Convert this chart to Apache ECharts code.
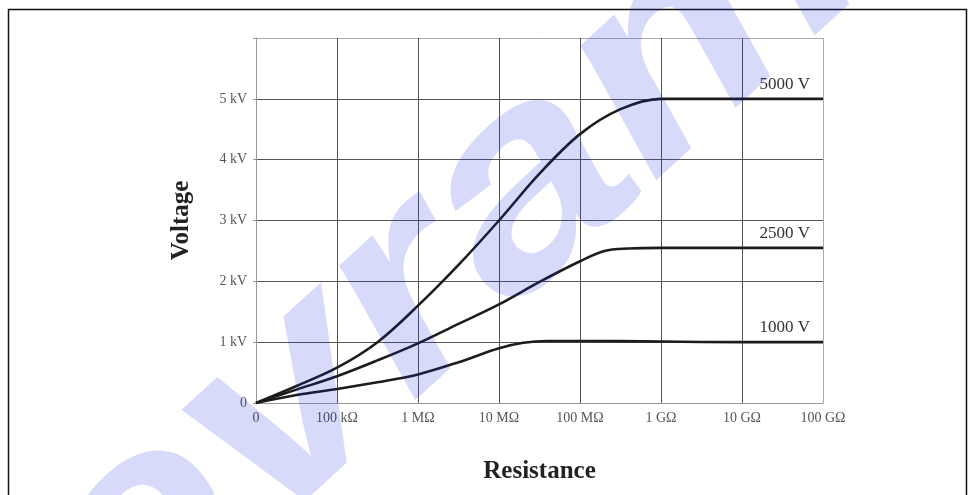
<!DOCTYPE html>
<html>
<head>
<meta charset="utf-8">
<script src="https://cdn.jsdelivr.net/npm/echarts@6/dist/echarts.min.js"></script>
<style>
html,body{margin:0;padding:0;background:#fff;}
#c{width:969px;height:495px;}
</style>
</head>
<body>
<div id="c"></div>
<script>
// x positions: decades of resistance (0 = 0, 1 = 100 kΩ, ... 7 = 100 GΩ)
var xTickLabels = ['0', '100 kΩ', '1 MΩ', '10 MΩ', '100 MΩ', '1 GΩ', '10 GΩ', '100 GΩ'];
var yTickLabels = ['0', '1 kV', '2 kV', '3 kV', '4 kV', '5 kV', ''];
var seriesNames = ['5000 V', '2500 V', '1000 V'];

var x5000 = [0, 0.5, 1, 1.5, 2, 2.5, 3, 3.5, 4, 4.5, 5, 6, 7];
var v5000 = [0, 0.28, 0.58, 1.0, 1.6, 2.27, 3.0, 3.77, 4.42, 4.83, 5.0, 5.0, 5.0];

var x2500 = [0, 0.5, 1, 1.5, 2, 2.5, 3, 3.5, 4, 4.3, 4.6, 5, 6, 7];
var v2500 = [0, 0.22, 0.44, 0.7, 0.98, 1.3, 1.62, 1.99, 2.33, 2.5, 2.54, 2.55, 2.55, 2.55];

var x1000 = [0, 0.5, 1, 1.5, 2, 2.5, 3, 3.3, 3.6, 4, 5, 6, 7];
var v1000 = [0, 0.13, 0.23, 0.34, 0.47, 0.67, 0.9, 0.99, 1.02, 1.02, 1.01, 1.0, 1.0];

function pairs(xs, ys) {
  return xs.map(function (x, i) { return [x, ys[i]]; });
}

var serif = '"Liberation Serif", "DejaVu Serif", serif';

function mkSeries(name, xs, ys) {
  var last = xs.length - 1;
  return {
    name: name,
    type: 'line',
    data: pairs(xs, ys),
    smooth: 0.35,
    showSymbol: false,
    symbol: 'none',
    lineStyle: { color: '#1c1c1c', width: 2.6 },
    markPoint: {
      symbol: 'circle',
      symbolSize: 0,
      silent: true,
      data: [{ coord: [xs[last], ys[last]], value: name }],
      label: {
        show: true,
        position: 'top',
        align: 'right',
        distance: 6,
        offset: [-13, 0],
        fontFamily: serif,
        fontSize: 17,
        color: '#333',
        formatter: name
      }
    },
    z: 3
  };
}

var chart = echarts.init(document.getElementById('c'), null, { renderer: 'canvas' });
chart.setOption({
  animation: false,
  backgroundColor: '#ffffff',
  grid: { left: 256, right: 146, top: 38, bottom: 92, containLabel: false },
  xAxis: {
    type: 'value',
    min: 0, max: 7, interval: 1,
    name: 'Resistance',
    nameLocation: 'middle',
    nameGap: 56,
    nameTextStyle: { fontFamily: serif, fontWeight: 'bold', fontSize: 25, color: '#222' },
    axisLine: { show: true, lineStyle: { color: '#999', width: 1 } },
    axisTick: { show: false },
    axisLabel: {
      fontFamily: serif, fontSize: 14, color: '#555', margin: 8,
      formatter: function (v) { return xTickLabels[Math.round(v)]; }
    },
    splitLine: { show: true, lineStyle: { color: ['#999', '#555', '#555', '#555', '#555', '#555', '#555', '#aaa'], width: 1 } }
  },
  yAxis: {
    type: 'value',
    min: 0, max: 6, interval: 1,
    name: 'Voltage',
    nameLocation: 'middle',
    nameGap: 62,
    nameTextStyle: { fontFamily: serif, fontWeight: 'bold', fontSize: 25, color: '#222' },
    axisLine: { show: true, lineStyle: { color: '#999', width: 1 } },
    axisTick: { show: true, length: 3, lineStyle: { color: '#999' } },
    axisLabel: {
      fontFamily: serif, fontSize: 14, color: '#555', margin: 9,
      formatter: function (v) { return yTickLabels[Math.round(v)]; }
    },
    splitLine: { show: true, lineStyle: { color: ['#999', '#555', '#555', '#555', '#555', '#555', '#aaa'], width: 1 } }
  },
  series: [
    mkSeries(seriesNames[0], x5000, v5000),
    mkSeries(seriesNames[1], x2500, v2500),
    mkSeries(seriesNames[2], x1000, v1000)
  ],
  graphic: [
    {
      type: 'polyline',
      shape: { points: [[8.5, 495], [8.5, 9.5], [966.5, 9.5], [966.5, 495]] },
      style: { stroke: '#111', lineWidth: 1.5, fill: null },
      silent: true, z: 10
    },
    {
      type: 'text',
      x: 450, y: 262,
      rotation: 0.74,
      scaleX: 1.15,
      scaleY: 0.95,
      style: {
        text: 'evram',
        font: 'italic bold 300px "Liberation Sans", Arial, sans-serif',
        fill: 'rgba(20,40,220,0.17)',
        textAlign: 'center',
        textVerticalAlign: 'middle'
      },
      silent: true, z: 20
    }
  ]
});
</script>
</body>
</html>
